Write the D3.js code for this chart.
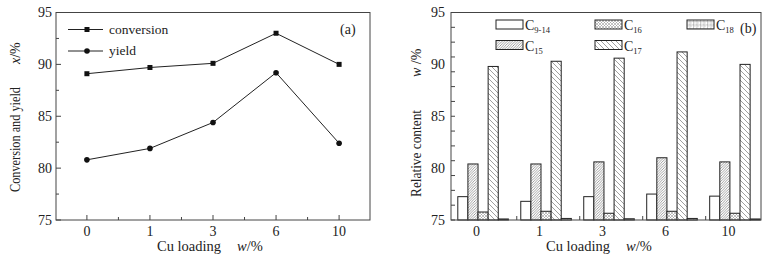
<!DOCTYPE html>
<html><head><meta charset="utf-8">
<script src="https://cdn.jsdelivr.net/npm/d3@7"></script>
<style>
body{margin:0;background:#fff;}
svg text{font-family:"Liberation Serif","Times New Roman",serif;fill:#222;}
</style></head>
<body><svg id="c" width="775" height="259" font-family="Liberation Serif, serif"></svg>
<script>
const categories = ["0","1","3","6","10"];
const conversion = [89.1, 89.7, 90.1, 93.0, 90.0];
const yieldVals = [80.8, 81.9, 84.4, 89.2, 82.4];
const seriesNames = ["C9-14","C15","C16","C17","C18"];
const seriesBase = ["C","C","C","C","C"];
const seriesSub = ["9-14","15","16","17","18"];
const c914 = [77.25, 76.8, 77.25, 77.5, 77.3];
const c15 = [80.4, 80.4, 80.6, 81.0, 80.6];
const c16 = [75.77, 75.84, 75.65, 75.84, 75.65];
const c17 = [89.8, 90.3, 90.6, 91.2, 90.0];
const c18 = [75.1, 75.15, 75.12, 75.15, 75.1];
const yTickLabels = [75, 80, 85, 90, 95];

const svg = d3.select("#c");
const axisCol = "#444";
const defs = svg.append("defs");
function hatch(id, size, draw){
  const p = defs.append("pattern").attr("id", id).attr("patternUnits","userSpaceOnUse")
    .attr("width", size).attr("height", size);
  p.append("rect").attr("width", size).attr("height", size).attr("fill","#fff");
  draw(p, size);
}
hatch("p15", 2.6, (p,s)=>{ p.append("path").attr("d",`M0,${s} L${s},0 M${-s/2},${s/2} L${s/2},${-s/2} M${s/2},${s*1.5} L${s*1.5},${s/2}`).attr("stroke","#777").attr("stroke-width",0.7); });
hatch("p16", 3, (p,s)=>{ p.append("path").attr("d",`M0,${s} L${s},0 M0,0 L${s},${s}`).attr("stroke","#999").attr("stroke-width",0.6); });
hatch("p17", 5, (p,s)=>{ p.append("path").attr("d",`M0,0 L${s},${s} M${-s/2},${s/2} L${s/2},${s*1.5} M${s/2},${-s/2} L${s*1.5},${s/2}`).attr("stroke","#888").attr("stroke-width",0.8); });
hatch("p18", 3.5, (p,s)=>{ p.append("path").attr("d",`M0,0 L${s},0 M0,0 L0,${s}`).attr("stroke","#777").attr("stroke-width",0.7);
  p.append("circle").attr("cx",s/2).attr("cy",s/2).attr("r",0.5).attr("fill","#999"); });
const fills = ["#fff","url(#p15)","url(#p16)","url(#p17)","url(#p18)"];

// ---------- Chart (a) ----------
const A = {l:56, r:370, t:12.5, b:220};
const xa = d3.scalePoint().domain(categories).range([A.l, A.r]).padding(0.49);
const ya = d3.scaleLinear().domain([75,95]).range([A.b, A.t]);
const ga = svg.append("g");
ga.append("rect").attr("x",A.l).attr("y",A.t).attr("width",A.r-A.l).attr("height",A.b-A.t)
  .attr("fill","none").attr("stroke",axisCol).attr("stroke-width",1);
d3.range(75, 95.01, 2.5).forEach(v=>{
  const major = v % 5 === 0;
  ga.append("line").attr("x1",A.l).attr("x2",A.l+(major?5:3)).attr("y1",ya(v)).attr("y2",ya(v)).attr("stroke",axisCol);
});
yTickLabels.forEach(v=>{
  ga.append("text").attr("x",A.l-4).attr("y",ya(v)).attr("dy","0.35em").attr("text-anchor","end").attr("font-size",14).text(v);
});
categories.forEach((c,i)=>{
  ga.append("line").attr("x1",xa(c)).attr("x2",xa(c)).attr("y1",A.b).attr("y2",A.b-5).attr("stroke",axisCol);
  ga.append("text").attr("x",xa(c)).attr("y",236).attr("text-anchor","middle").attr("font-size",14).text(c);
  if(i<categories.length-1){
    const m = (xa(c)+xa(categories[i+1]))/2;
    ga.append("line").attr("x1",m).attr("x2",m).attr("y1",A.b).attr("y2",A.b-3).attr("stroke",axisCol);
  }
});
const lineGen = d3.line().x((d,i)=>xa(categories[i])).y(d=>ya(d));
ga.append("path").datum(conversion).attr("d",lineGen).attr("fill","none").attr("stroke","#222").attr("stroke-width",1);
ga.append("path").datum(yieldVals).attr("d",lineGen).attr("fill","none").attr("stroke","#222").attr("stroke-width",1);
ga.selectAll(".sq").data(conversion).join("rect").attr("x",(d,i)=>xa(categories[i])-2.5).attr("y",d=>ya(d)-2.5)
  .attr("width",5).attr("height",5).attr("fill","#111");
ga.selectAll(".ci").data(yieldVals).join("circle").attr("cx",(d,i)=>xa(categories[i])).attr("cy",d=>ya(d))
  .attr("r",2.8).attr("fill","#111");
[["conversion",29.5],["yield",51]].forEach(([t,y],k)=>{
  ga.append("line").attr("x1",68).attr("x2",103).attr("y1",y).attr("y2",y).attr("stroke","#222");
  if(k===0) ga.append("rect").attr("x",84.5).attr("y",y-2.5).attr("width",5).attr("height",5).attr("fill","#111");
  else ga.append("circle").attr("cx",87).attr("cy",y).attr("r",2.8).attr("fill","#111");
  ga.append("text").attr("x",109).attr("y",y).attr("dy","0.3em").attr("font-size",13.5).text(t);
});
ga.append("text").attr("x",340).attr("y",34).attr("font-size",14).text("(a)");
ga.append("text").attr("x",157).attr("y",251).attr("font-size",14.5).text("Cu loading");
ga.append("text").attr("x",237).attr("y",251).attr("font-size",14.5).html('<tspan font-style="italic">x</tspan>'.replace('x','w')+'/%');
ga.append("text").attr("transform","translate(20,192) rotate(-90)").attr("font-size",14)
  .attr("textLength",105).attr("lengthAdjust","spacingAndGlyphs").text("Conversion and yield");
ga.append("text").attr("transform","translate(20,64) rotate(-90)").attr("font-size",14).html('<tspan font-style="italic">x</tspan>/%');

// ---------- Chart (b) ----------
const B = {l:451, r:761, t:12.5, b:220};
const xb = d3.scaleBand().domain(categories).range([B.l, B.r]).paddingInner(0.197).paddingOuter(0.06).align(0.9);
const xs = d3.scaleBand().domain(seriesNames).range([0, xb.bandwidth()]);
const yb = d3.scaleLinear().domain([75,95]).range([B.b, B.t]);
const gb = svg.append("g");
const seriesVals = [c914, c15, c16, c17, c18];
categories.forEach((c,i)=>{
  seriesNames.forEach((s,j)=>{
    const v = seriesVals[j][i];
    gb.append("rect").attr("x",xb(c)+xs(s)).attr("y",yb(v)).attr("width",xs.bandwidth()).attr("height",yb(75)-yb(v))
      .attr("fill",fills[j]).attr("stroke","#222").attr("stroke-width",1);
  });
  gb.append("text").attr("x",xb(c)+xb.bandwidth()*0.37).attr("y",236).attr("text-anchor","middle").attr("font-size",14).text(c);
  if(i>0){
    const m = xb(c)-4;
    gb.append("line").attr("x1",m).attr("x2",m).attr("y1",B.b).attr("y2",B.b-4).attr("stroke",axisCol);
  }
});
gb.append("rect").attr("x",B.l).attr("y",B.t).attr("width",B.r-B.l).attr("height",B.b-B.t)
  .attr("fill","none").attr("stroke",axisCol).attr("stroke-width",1);
d3.range(75, 95.01, 20/14).forEach(v=>{
  gb.append("line").attr("x1",B.l).attr("x2",B.l+4).attr("y1",yb(v)).attr("y2",yb(v)).attr("stroke",axisCol);
});
yTickLabels.forEach(v=>{
  gb.append("text").attr("x",B.l-6).attr("y",yb(v)).attr("dy","0.35em").attr("text-anchor","end").attr("font-size",14).text(v);
});
const legPos = [[496,20],[496,40.5],[595,20],[595,40.5],[687,20]];
seriesNames.forEach((s,j)=>{
  const [x,y] = legPos[j];
  gb.append("rect").attr("x",x).attr("y",y).attr("width",27).attr("height",9).attr("fill",fills[j]).attr("stroke","#222");
  gb.append("text").attr("x",x+29).attr("y",y+10).attr("font-size",14)
    .html(`${seriesBase[j]}<tspan font-size="8.5" dy="3">${seriesSub[j]}</tspan>`);
});
gb.append("text").attr("x",740).attr("y",33).attr("font-size",14).text("(b)");
gb.append("text").attr("x",546).attr("y",251).attr("font-size",14.5).text("Cu loading");
gb.append("text").attr("x",626).attr("y",251).attr("font-size",14.5).html('<tspan font-style="italic">w</tspan>/%');
gb.append("text").attr("transform","translate(421,197) rotate(-90)").attr("font-size",14)
  .attr("textLength",87).attr("lengthAdjust","spacingAndGlyphs").text("Relative content");
gb.append("text").attr("transform","translate(421,77) rotate(-90)").attr("font-size",14).html('<tspan font-style="italic">w</tspan> /%');
</script></body></html>
